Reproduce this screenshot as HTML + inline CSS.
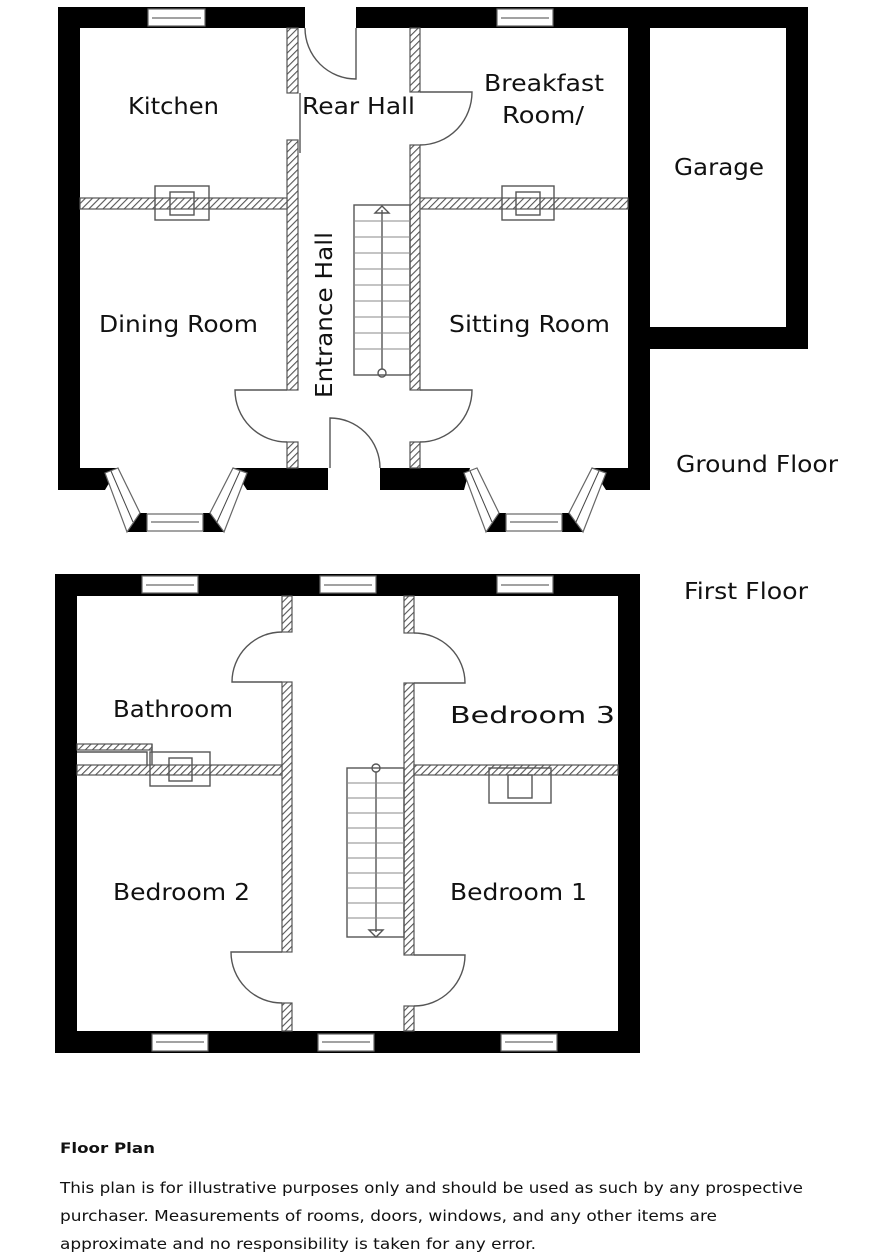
<!DOCTYPE html>
<html><head><meta charset="utf-8"><style>
html,body{margin:0;padding:0;background:#fff;width:886px;height:1253px;overflow:hidden}
svg{display:block}
text{font-family:"DejaVu Sans","Liberation Sans",sans-serif;fill:#111}
</style></head><body>
<svg width="886" height="1253" viewBox="0 0 886 1253" xmlns="http://www.w3.org/2000/svg">
<defs>
<pattern id="h" patternUnits="userSpaceOnUse" width="5" height="5" patternTransform="rotate(45)">
<rect width="5" height="5" fill="#fff"/><line x1="0" y1="0" x2="0" y2="5" stroke="#555" stroke-width="2.2"/>
</pattern>
</defs>
<g fill="#000">
<rect x="58" y="7" width="247" height="21"/>
<rect x="356" y="7" width="452" height="21"/>
<rect x="58" y="7" width="22" height="483"/>
<rect x="628" y="7" width="22" height="483"/>
<rect x="786" y="7" width="22" height="342"/>
<rect x="628" y="327" width="180" height="22"/>
<polygon points="58,468 118,468 105,490 58,490"/>
<polygon points="233,468 328,468 328,490 247,490"/>
<polygon points="380,468 470,468 464,490 380,490"/>
<polygon points="592,468 650,468 650,490 606,490"/>
<polygon points="127,532 140,513 147,513 147,532"/>
<polygon points="203,513 210,513 224,532 203,532"/>
<polygon points="486,532 499,513 506,513 506,532"/>
<polygon points="562,513 569,513 583,532 562,532"/>
<rect x="55" y="574" width="585" height="22"/>
<rect x="55" y="1031" width="585" height="22"/>
<rect x="55" y="574" width="22" height="479"/>
<rect x="618" y="574" width="22" height="479"/>
</g>
<g fill="#fff" stroke="#666" stroke-width="1.2">
<rect x="148" y="9" width="57" height="17"/>
<rect x="497" y="9" width="56" height="17"/>
<rect x="147" y="514" width="56" height="17"/>
<rect x="506" y="514" width="56" height="17"/>
<rect x="142" y="576" width="56" height="17"/>
<rect x="320" y="576" width="56" height="17"/>
<rect x="497" y="576" width="56" height="17"/>
<rect x="152" y="1034" width="56" height="17"/>
<rect x="318" y="1034" width="56" height="17"/>
<rect x="501" y="1034" width="56" height="17"/>
<polygon points="105,473 118,468 140,513 127,532"/>
<polygon points="233,468 247,473 224,532 210,513"/>
<polygon points="464,473 477,468 499,513 486,532"/>
<polygon points="592,468 606,473 583,532 569,513"/>
</g>
<g stroke="#444" stroke-width="1" fill="none">
<line x1="152" y1="18" x2="201" y2="18"/><line x1="501" y1="18" x2="549" y2="18"/>
<line x1="151" y1="522" x2="199" y2="522"/><line x1="510" y1="522" x2="558" y2="522"/>
<line x1="146" y1="585" x2="194" y2="585"/><line x1="324" y1="585" x2="372" y2="585"/><line x1="501" y1="585" x2="549" y2="585"/>
<line x1="156" y1="1042" x2="204" y2="1042"/><line x1="322" y1="1042" x2="370" y2="1042"/><line x1="505" y1="1042" x2="553" y2="1042"/>
<line x1="111" y1="471" x2="133" y2="522"/><line x1="240" y1="471" x2="217" y2="522"/>
<line x1="470" y1="471" x2="492" y2="522"/><line x1="599" y1="471" x2="576" y2="522"/>
</g>
<g fill="url(#h)" stroke="#555" stroke-width="1.2">
<rect x="287" y="28" width="11" height="65"/>
<rect x="287" y="140" width="11" height="250"/>
<rect x="287" y="442" width="11" height="26"/>
<rect x="410" y="28" width="10" height="64"/>
<rect x="410" y="145" width="10" height="245"/>
<rect x="410" y="442" width="10" height="26"/>
<rect x="80" y="198" width="207" height="11"/>
<rect x="420" y="198" width="208" height="11"/>
<rect x="282" y="596" width="10" height="36"/>
<rect x="282" y="682" width="10" height="270"/>
<rect x="282" y="1003" width="10" height="28"/>
<rect x="404" y="596" width="10" height="37"/>
<rect x="404" y="683" width="10" height="272"/>
<rect x="404" y="1006" width="10" height="25"/>
<rect x="77" y="765" width="205" height="10"/>
<rect x="414" y="765" width="204" height="10"/>
<rect x="77" y="744" width="75" height="6"/>
</g>
<g fill="none" stroke="#555" stroke-width="1.4">
<polyline points="77,752 147,752 147,765"/>
<line x1="152" y1="744" x2="152" y2="765"/>
<rect x="155" y="186" width="54" height="34"/><rect x="170" y="192" width="24" height="23"/>
<rect x="502" y="186" width="52" height="34"/><rect x="516" y="192" width="24" height="23"/>
<rect x="150" y="752" width="60" height="34"/><rect x="169" y="758" width="23" height="23"/>
<rect x="489" y="768" width="62" height="35"/><rect x="508" y="775" width="24" height="23"/>
<path d="M305,28 A51,51 0 0 0 356,79 L356,28"/>
<line x1="300" y1="93" x2="300" y2="153"/>
<path d="M420,92 L472,92 A52,53 0 0 1 420,145"/>
<path d="M287,390 L235,390 A52,52 0 0 0 287,442"/>
<path d="M420,390 L472,390 A52,52 0 0 1 420,442"/>
<path d="M330,468 L330,418 A50,50 0 0 1 380,468"/>
<path d="M282,632 A50,50 0 0 0 232,682 L282,682"/>
<path d="M414,633 A51,50 0 0 1 465,683 L414,683"/>
<path d="M282,952 L231,952 A51,51 0 0 0 282,1003"/>
<path d="M414,955 L465,955 A51,51 0 0 1 414,1006"/>
<rect x="354" y="205" width="56" height="170"/>
<line x1="382" y1="210" x2="382" y2="369"/>
<circle cx="382" cy="373" r="4"/>
<path d="M375,213 L382,206 L389,213 Z"/>
<rect x="347" y="768" width="57" height="169"/>
<line x1="376" y1="772" x2="376" y2="932"/>
<circle cx="376" cy="768" r="4"/>
<path d="M369,930 L376,937 L383,930 Z"/>
</g>
<g stroke="#888" stroke-width="1">
<line x1="354" y1="221" x2="410" y2="221"/><line x1="354" y1="237" x2="410" y2="237"/><line x1="354" y1="253" x2="410" y2="253"/><line x1="354" y1="269" x2="410" y2="269"/><line x1="354" y1="285" x2="410" y2="285"/><line x1="354" y1="301" x2="410" y2="301"/><line x1="354" y1="317" x2="410" y2="317"/><line x1="354" y1="333" x2="410" y2="333"/><line x1="354" y1="349" x2="410" y2="349"/>
<line x1="347" y1="783" x2="404" y2="783"/><line x1="347" y1="798" x2="404" y2="798"/><line x1="347" y1="813" x2="404" y2="813"/><line x1="347" y1="828" x2="404" y2="828"/><line x1="347" y1="843" x2="404" y2="843"/><line x1="347" y1="858" x2="404" y2="858"/><line x1="347" y1="873" x2="404" y2="873"/><line x1="347" y1="888" x2="404" y2="888"/><line x1="347" y1="903" x2="404" y2="903"/><line x1="347" y1="918" x2="404" y2="918"/>
</g>
<g font-size="23">
<text x="128" y="114" textLength="91" lengthAdjust="spacingAndGlyphs">Kitchen</text>
<text x="302" y="114" textLength="113" lengthAdjust="spacingAndGlyphs">Rear Hall</text>
<text x="484" y="91" textLength="120" lengthAdjust="spacingAndGlyphs">Breakfast</text>
<text x="502" y="123" textLength="82" lengthAdjust="spacingAndGlyphs">Room/</text>
<text x="674" y="175" textLength="90" lengthAdjust="spacingAndGlyphs">Garage</text>
<text x="99" y="332" textLength="159" lengthAdjust="spacingAndGlyphs">Dining Room</text>
<text x="449" y="332" textLength="161" lengthAdjust="spacingAndGlyphs">Sitting Room</text>
<text transform="translate(332,398) rotate(-90)" x="0" y="0" textLength="166" lengthAdjust="spacingAndGlyphs">Entrance Hall</text>
<text x="676" y="472" textLength="162" lengthAdjust="spacingAndGlyphs">Ground Floor</text>
<text x="684" y="599" textLength="124" lengthAdjust="spacingAndGlyphs">First Floor</text>
<text x="113" y="717" textLength="120" lengthAdjust="spacingAndGlyphs">Bathroom</text>
<text x="450" y="723" textLength="165" lengthAdjust="spacingAndGlyphs">Bedroom 3</text>
<text x="113" y="900" textLength="137" lengthAdjust="spacingAndGlyphs">Bedroom 2</text>
<text x="450" y="900" textLength="137" lengthAdjust="spacingAndGlyphs">Bedroom 1</text>
</g>
<text x="60" y="1153" font-size="14" font-weight="bold" textLength="95" lengthAdjust="spacingAndGlyphs">Floor Plan</text>
<g font-size="15">
<text x="60" y="1193" textLength="743" lengthAdjust="spacingAndGlyphs">This plan is for illustrative purposes only and should be used as such by any prospective</text>
<text x="60" y="1221" textLength="657" lengthAdjust="spacingAndGlyphs">purchaser. Measurements of rooms, doors, windows, and any other items are</text>
<text x="60" y="1249" textLength="476" lengthAdjust="spacingAndGlyphs">approximate and no responsibility is taken for any error.</text>
</g>
</svg>
</body></html>
